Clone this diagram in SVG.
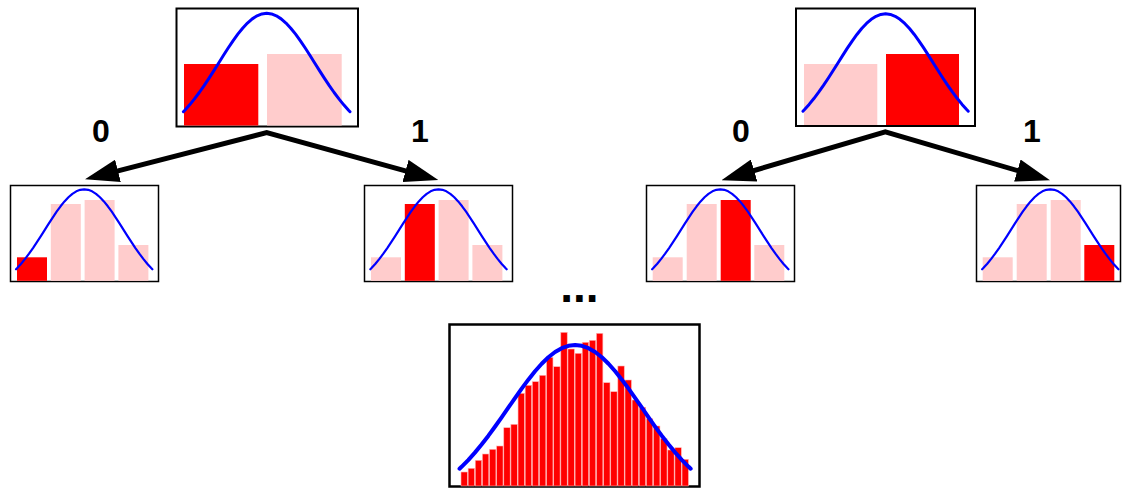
<svg xmlns="http://www.w3.org/2000/svg" xmlns:xlink="http://www.w3.org/1999/xlink" width="1122" height="488" viewBox="0 0 1122 488">
<style>
.frame{fill:#fff;stroke:#000}
.big{stroke-width:2}
.small{stroke-width:1.5}
.red{fill:#ff0000}
.pink{fill:#ffcccc}
.gauss{fill:none;stroke:#0000ff;stroke-linejoin:round;stroke-linecap:round}
.hbar{fill:#ff0000;stroke:#ffb3b3;stroke-width:0.6}
.lbl{font-family:"Liberation Sans",Arial,sans-serif;font-weight:bold;fill:#000}
.conn{fill:none;stroke:#000;stroke-width:5;stroke-linejoin:miter;marker-start:url(#ah);marker-end:url(#ah)}
</style>
<defs>
<marker id="ah" markerUnits="userSpaceOnUse" viewBox="0 0 34 23" markerWidth="34" markerHeight="23" refX="14" refY="11.5" orient="auto-start-reverse">
<path d="M0,0 L34,11.5 L0,23 z" fill="#000"/>
</marker>
<path id="g" vector-effect="non-scaling-stroke" d="M-173,-22.39 L-170,-23.58 L-160,-27.8 L-150,-32.47 L-140,-37.53 L-130,-42.96 L-120,-48.68 L-110,-54.61 L-100,-60.65 L-90,-66.7 L-80,-72.62 L-70,-78.27 L-60,-83.53 L-50,-88.25 L-40,-92.31 L-30,-95.6 L-20,-98.02 L-10,-99.5 L0,-100 L10,-99.5 L20,-98.02 L30,-95.6 L40,-92.31 L50,-88.25 L60,-83.53 L70,-78.27 L80,-72.62 L90,-66.7 L100,-60.65 L110,-54.61 L120,-48.68 L130,-42.96 L140,-37.53 L150,-32.47 L160,-27.8 L170,-23.58 L173,-22.39"/>
</defs>

<g id="top-left">
<rect class="frame big" x="176.5" y="8.5" width="181.5" height="118"/>
<rect class="red" x="184" y="64" width="74.3" height="61.5"/>
<rect class="pink" x="267" y="54" width="74.7" height="71.5"/>
<use xlink:href="#g" class="gauss" stroke-width="3" transform="translate(266.7,140.1) scale(0.4815,1.268)"/>
</g>

<g id="top-right">
<rect class="frame big" x="796" y="8.5" width="179" height="117.5"/>
<rect class="pink" x="804" y="64" width="73.3" height="61"/>
<rect class="red" x="886" y="54" width="73" height="71"/>
<use xlink:href="#g" class="gauss" stroke-width="3" transform="translate(885.6,139.3) scale(0.478,1.255)"/>
</g>

<g id="leaf-1">
<rect class="frame small" x="10.5" y="185.5" width="148" height="96"/>
<rect class="red" x="17" y="257.3" width="30" height="23.5"/>
<rect class="pink" x="50.8" y="204" width="30" height="76.8"/>
<rect class="pink" x="84.6" y="200" width="30" height="80.8"/>
<rect class="pink" x="118.4" y="245" width="30" height="35.8"/>
<use xlink:href="#g" class="gauss" stroke-width="2.2" transform="translate(84.2,292.4) scale(0.394,1.031)"/>
</g>

<g id="leaf-2">
<rect class="frame small" x="364.5" y="185.5" width="148" height="96"/>
<rect class="pink" x="371" y="257.3" width="30" height="23.5"/>
<rect class="red" x="404.8" y="204" width="30" height="76.8"/>
<rect class="pink" x="438.6" y="200" width="30" height="80.8"/>
<rect class="pink" x="472.4" y="245" width="30" height="35.8"/>
<use xlink:href="#g" class="gauss" stroke-width="2.2" transform="translate(438.5,292.4) scale(0.394,1.031)"/>
</g>

<g id="leaf-3">
<rect class="frame small" x="646.5" y="185.5" width="148" height="96"/>
<rect class="pink" x="652.7" y="257.3" width="30" height="23.5"/>
<rect class="pink" x="686.7" y="204" width="30" height="76.8"/>
<rect class="red" x="720.7" y="200" width="30" height="80.8"/>
<rect class="pink" x="754.3" y="245" width="30" height="35.8"/>
<use xlink:href="#g" class="gauss" stroke-width="2.2" transform="translate(720.3,292.4) scale(0.394,1.031)"/>
</g>

<g id="leaf-4">
<rect class="frame small" x="976.5" y="185.5" width="144" height="96"/>
<rect class="pink" x="982.7" y="257.3" width="30" height="23.5"/>
<rect class="pink" x="1016.7" y="204" width="30" height="76.8"/>
<rect class="pink" x="1050.7" y="200" width="30" height="80.8"/>
<rect class="red" x="1084.3" y="245" width="30" height="35.8"/>
<use xlink:href="#g" class="gauss" stroke-width="2.2" transform="translate(1050.3,292.4) scale(0.394,1.031)"/>
</g>

<g id="connectors">
<path class="conn" d="M104.4,174.3 L266.7,132.7 L419,174.7"/>
<path class="conn" d="M740.7,174.5 L885.3,131.8 L1030.8,174.5"/>
</g>

<g id="labels">
<text class="lbl" x="101" y="141.7" font-size="32" text-anchor="middle">0</text>
<text class="lbl" x="420" y="141.7" font-size="32" text-anchor="middle">1</text>
<text class="lbl" x="741" y="141.7" font-size="32" text-anchor="middle">0</text>
<text class="lbl" x="1032" y="141.7" font-size="32" text-anchor="middle">1</text>
<text class="lbl" x="579.3" y="301.7" font-size="46" text-anchor="middle">...</text>
</g>

<g id="histogram">
<rect class="frame" stroke-width="2.5" x="449.5" y="324.5" width="250" height="162"/>
<rect class="hbar" x="461" y="472" width="6.4" height="14"/>
<rect class="hbar" x="468.13" y="468.3" width="6.4" height="17.7"/>
<rect class="hbar" x="475.26" y="460.3" width="6.4" height="25.7"/>
<rect class="hbar" x="482.39" y="454" width="6.4" height="32"/>
<rect class="hbar" x="489.52" y="449.3" width="6.4" height="36.7"/>
<rect class="hbar" x="496.65" y="446" width="6.4" height="40"/>
<rect class="hbar" x="503.78" y="427.7" width="6.4" height="58.3"/>
<rect class="hbar" x="510.91" y="424.3" width="6.4" height="61.7"/>
<rect class="hbar" x="518.04" y="393.3" width="6.4" height="92.7"/>
<rect class="hbar" x="525.17" y="385.3" width="6.4" height="100.7"/>
<rect class="hbar" x="532.3" y="381.7" width="6.4" height="104.3"/>
<rect class="hbar" x="539.43" y="375.3" width="6.4" height="110.7"/>
<rect class="hbar" x="546.56" y="357.3" width="6.4" height="128.7"/>
<rect class="hbar" x="553.69" y="366.7" width="6.4" height="119.3"/>
<rect class="hbar" x="560.82" y="332.3" width="6.4" height="153.7"/>
<rect class="hbar" x="567.95" y="349" width="6.4" height="137"/>
<rect class="hbar" x="575.08" y="353.3" width="6.4" height="132.7"/>
<rect class="hbar" x="582.21" y="342.3" width="6.4" height="143.7"/>
<rect class="hbar" x="589.34" y="340.3" width="6.4" height="145.7"/>
<rect class="hbar" x="596.47" y="333.3" width="6.4" height="152.7"/>
<rect class="hbar" x="603.6" y="382.7" width="6.4" height="103.3"/>
<rect class="hbar" x="610.73" y="391.7" width="6.4" height="94.3"/>
<rect class="hbar" x="617.86" y="366" width="6.4" height="120"/>
<rect class="hbar" x="624.99" y="380" width="6.4" height="106"/>
<rect class="hbar" x="632.12" y="400" width="6.4" height="86"/>
<rect class="hbar" x="639.25" y="407.3" width="6.4" height="78.7"/>
<rect class="hbar" x="646.38" y="418.7" width="6.4" height="67.3"/>
<rect class="hbar" x="653.51" y="426" width="6.4" height="60"/>
<rect class="hbar" x="660.64" y="438.7" width="6.4" height="47.3"/>
<rect class="hbar" x="667.77" y="450" width="6.4" height="36"/>
<rect class="hbar" x="674.9" y="447.7" width="6.4" height="38.3"/>
<rect class="hbar" x="682.03" y="459.3" width="6.4" height="26.7"/>
<use xlink:href="#g" class="gauss" stroke-width="4" transform="translate(575.1,504.4) scale(0.668,1.594)"/>
</g>
</svg>
